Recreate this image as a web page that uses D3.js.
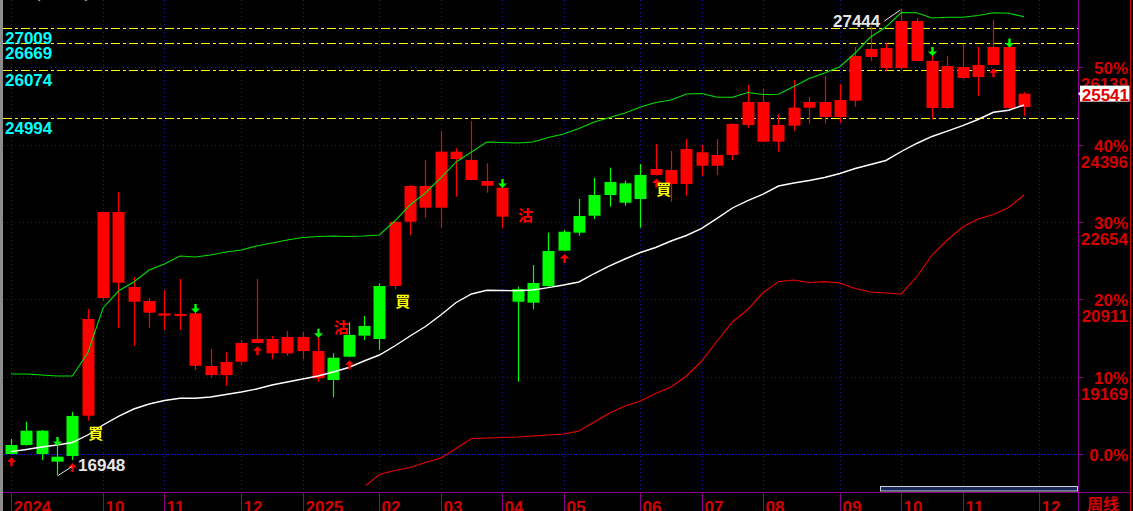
<!DOCTYPE html>
<html><head><meta charset="utf-8">
<script src="https://cdn.jsdelivr.net/npm/d3@7"></script>
<style>
html,body{margin:0;padding:0;background:#000;overflow:hidden;}
svg{display:block;}
</style></head><body>
<svg id="c" width="1133" height="511"></svg>
<script>
// ---------- data (weekly candles) ----------
const opens  = [17635,17957,17957,17372,18288,18294,20943,21287,20859,20612,20544,20544,19419,19210,19210,19509,19930,19698,19698,19750,19136,19599,20110,20313,21213,21213,22659,22975,22975,24070,23598,23469,22772,21145,21280,22000,22434,22788,23260,23553,23523,23710,23710,23508,23508,23919,23919,24160,24835,24460,24460,24820,25225,25015,25015,25382,26365,26118,26118,26275,25218,25218,25893,25915,26185,25218,25240];
const highs  = [17770,18160,17972,17635,18385,20695,22890,23334,21415,20943,21123,21370,20628,19795,19721,19998,21370,20088,20200,20185,20072,19699,20396,20538,21273,22665,23485,24048,24700,24311,24925,23973,23440,21197,21685,22412,22473,23170,23649,23875,23582,23958,24408,24250,24520,24385,24520,24874,25735,25645,25083,25848,25465,25938,25758,26590,27063,26680,27444,27243,26410,26388,26658,26590,27198,26600,25578];
const lows   = [17425,17620,17298,16948,17298,18182,20882,20268,19869,20274,20223,20223,19323,19149,18970,19435,19925,19564,19644,19564,19060,18709,19610,19998,19773,21138,22360,22749,22525,23222,23590,23312,22511,19060,20688,21197,22000,22345,22720,22997,23020,22525,23700,23110,23245,23688,23710,24048,24775,24455,24235,24707,24865,24865,24880,25247,26275,26050,26073,26270,24970,25195,25870,25488,26180,25173,25037];
const closes = [17433,17635,17433,17260,17388,20470,22878,22878,21190,20875,20598,20583,20598,19413,19503,19930,20020,20020,20065,20065,19750,19098,19622,20095,20020,22659,23463,23463,24235,24235,24048,23575,23425,20859,20837,21213,22007,22412,22794,23260,23087,23170,23845,23823,24295,24221,24160,24858,25353,25353,24835,25225,25353,25353,25398,26388,26545,26568,27175,27175,26275,26163,26140,26185,26590,26590,25541];
// Bollinger-style bands (upper / middle / lower)
const upper  = [19233,19233,19210,19188,19188,19705,20718,21100,21303,21573,21708,21888,21865,21910,21978,22023,22113,22180,22248,22304,22327,22338,22327,22338,22360,22675,23035,23305,23643,24003,24228,24453,24442,24430,24453,24554,24633,24757,24903,25004,25105,25240,25342,25398,25533,25544,25458,25458,25567,25522,25526,25702,25882,26005,26147,26455,26815,27040,27366,27362,27243,27258,27258,27299,27362,27348,27272];
const middle = [17485,17534,17590,17635,17692,17860,18085,18277,18445,18558,18637,18686,18686,18715,18772,18828,18895,18985,19053,19120,19188,19278,19379,19525,19660,19863,20088,20302,20560,20842,21033,21118,21111,21107,21123,21176,21235,21303,21494,21663,21820,21966,22079,22225,22349,22511,22736,22968,23136,23282,23462,23530,23587,23654,23744,23857,23947,24037,24239,24419,24577,24696,24822,24959,25121,25168,25285];
const lower  = [null,null,null,null,null,null,null,null,null,null,null,null,null,null,null,null,null,null,null,null,null,null,null,16690,16972,17062,17129,17242,17344,17556,17781,17793,17804,17815,17838,17860,17883,17950,18153,18355,18513,18625,18794,18940,19188,19525,19975,20403,20684,21066,21310,21348,21292,21310,21280,21156,21078,21055,21033,21415,21910,22248,22540,22720,22822,22980,23260];

const monthTicks = [[0,"2024"],[6,"10"],[10,"11"],[15,"12"],[19,"2025"],[24,"02"],[28,"03"],[32,"04"],[36,"05"],[41,"06"],[45,"07"],[49,"08"],[54,"09"],[58,"10"],[62,"11"],[67,"12"]];
const levelLines = [27009, 26669, 26074, 24994];
const basePrice = 17426;
const pctTicks  = [0, 0.1, 0.2, 0.3, 0.4, 0.5];
const pctLabels = ["0.0%","10%","20%","30%","40%","50%"];
const priceLabels = [null,"19169","20911","22654","24396","26139"];
const buyArrows  = [0,4,16,22,36,42,64];
const sellArrows = [3,12,20,32,60,65];
const buyMarks  = [[5,18085],[25,21033],[42,23553]];
const sellMarks = [[21,20448],[33,22968]];
const lastPrice = 25541;
const highMark = [58, 27444];
const lowMark  = [3, 16948];
const slots = 70;

// ---------- scales ----------
const svg = d3.select("#c");
const x = d3.scaleBand().domain(d3.range(slots)).range([3.3, 1077.8]).padding(0);
const cx = i => x(i) + x.bandwidth() / 2;
const y = d3.scaleLinear().domain([basePrice, basePrice * 1.5]).range([454.3, 67.05]);
const R = v => Math.round(v) + 0.5;

const RED = "#ff0000", GREEN = "#00ff00", AXRED = "#d40000", PURPLE = "#8a008a", GRID = "#1414b4";
const numFont = "'Liberation Sans', Arial, sans-serif";

svg.append("rect").attr("width", 1133).attr("height", 511).attr("fill", "#000");

svg.append("defs").append("clipPath").attr("id", "plot")
  .append("rect").attr("x", 3.3).attr("y", 0).attr("width", 1074.5).attr("height", 485.5);

// grid
const grid = svg.append("g").attr("shape-rendering", "crispEdges");
pctTicks.forEach(p => {
  const yy = R(y(basePrice * (1 + p)));
  grid.append("line").attr("x1", 3).attr("x2", 1078).attr("y1", yy).attr("y2", yy)
    .attr("stroke", GRID).attr("stroke-dasharray", p === 0 ? "2,1" : "1,3");
});
monthTicks.forEach(([i]) => {
  const xx = R(cx(i));
  grid.append("line").attr("x1", xx).attr("x2", xx).attr("y1", 0).attr("y2", 492)
    .attr("stroke", GRID).attr("stroke-dasharray", "1,3");
});

// yellow level lines and cyan labels
levelLines.forEach(v => {
  const yy = R(y(v));
  grid.append("line").attr("x1", 3).attr("x2", 1078).attr("y1", yy).attr("y2", yy)
    .attr("stroke", "#ffff00").attr("stroke-dasharray", "9,3,3,3");
  svg.append("text").attr("x", 5).attr("y", y(v) + 16).text(v)
    .attr("fill", "#00ffff").attr("font-family", numFont).attr("font-weight", "bold").attr("font-size", 17);
});

const plot = svg.append("g").attr("clip-path", "url(#plot)");

// candles
const candles = plot.append("g");
opens.forEach((o, i) => {
  const c = closes[i], col = c >= o ? RED : GREEN;
  const xx = cx(i);
  candles.append("line").attr("x1", Math.round(xx) + 0.5).attr("x2", Math.round(xx) + 0.5)
    .attr("y1", y(highs[i])).attr("y2", y(lows[i])).attr("stroke", col).attr("stroke-width", 1.2);
  const top = y(Math.max(o, c)), bot = y(Math.min(o, c));
  candles.append("rect").attr("x", Math.round(xx) - 5.5).attr("width", 12)
    .attr("y", top).attr("height", Math.max(2, bot - top)).attr("fill", col);
});

// band lines
const line = d3.line().defined(d => d != null).x((d, i) => cx(i)).y(d => y(d));
plot.append("path").datum(lower).attr("d", line).attr("fill", "none").attr("stroke", "#ee0000").attr("stroke-width", 1.1);
plot.append("path").datum(upper).attr("d", line).attr("fill", "none").attr("stroke", "#00e000").attr("stroke-width", 1.1);
plot.append("path").datum(middle).attr("d", line).attr("fill", "none").attr("stroke", "#ffffff").attr("stroke-width", 1.4);

// arrows
buyArrows.forEach(i => {
  const xx = Math.round(cx(i)) + 0.5, t = y(lows[i]) + 3;
  plot.append("path").attr("fill", RED)
    .attr("d", `M${xx},${t} L${xx + 4.5},${t + 4.5} L${xx + 1.2},${t + 4.5} L${xx + 1.2},${t + 9} L${xx - 1.2},${t + 9} L${xx - 1.2},${t + 4.5} L${xx - 4.5},${t + 4.5} Z`);
});
sellArrows.forEach(i => {
  const xx = Math.round(cx(i)) + 0.5, t = y(highs[i]) + 1;
  plot.append("path").attr("fill", GREEN)
    .attr("d", `M${xx},${t} L${xx + 4.5},${t - 4.5} L${xx + 1.2},${t - 4.5} L${xx + 1.2},${t - 9} L${xx - 1.2},${t - 9} L${xx - 1.2},${t - 4.5} L${xx - 4.5},${t - 4.5} Z`);
});

// buy / sell glyphs
const cjk = "'Noto Sans CJK TC','Noto Sans CJK SC',sans-serif";
buyMarks.forEach(([i, p]) => {
  svg.append("text").attr("x", cx(i) + 0.5).attr("y", y(p) + 13.5).text("買")
    .attr("fill", "#ffff00").attr("font-family", cjk).attr("font-weight", "bold").attr("font-size", 15);
});
sellMarks.forEach(([i, p]) => {
  svg.append("text").attr("x", cx(i) + 0.5).attr("y", y(p) + 13.5).text("沽")
    .attr("fill", RED).attr("font-family", cjk).attr("font-weight", "bold").attr("font-size", 15);
});

// high / low annotations
{
  const [hi, hv] = highMark, hx = cx(hi) - 1, hy = y(hv) + 1;
  svg.append("line").attr("x1", hx).attr("y1", hy).attr("x2", hx - 16).attr("y2", hy + 11)
    .attr("stroke", "#e6e6e6").attr("stroke-width", 1);
  svg.append("text").attr("x", hx - 20).attr("y", hy + 17).attr("text-anchor", "end").text(hv)
    .attr("fill", "#e6e6e6").attr("font-family", numFont).attr("font-weight", "bold").attr("font-size", 17);
  const [li, lv] = lowMark, lx = cx(li) + 1, ly = y(lv);
  svg.append("line").attr("x1", lx).attr("y1", ly).attr("x2", lx + 14).attr("y2", ly - 9)
    .attr("stroke", "#e6e6e6").attr("stroke-width", 1);
  svg.append("text").attr("x", lx + 20).attr("y", ly - 5).text(lv)
    .attr("fill", "#e6e6e6").attr("font-family", numFont).attr("font-weight", "bold").attr("font-size", 17);
}

// top-left indicator title (mostly cut off)
svg.append("text").attr("x", 35).attr("y", -2).text("(20,2,2)")
  .attr("fill", "#c8c8c8").attr("font-family", numFont).attr("font-size", 16);

// scroll bar
svg.append("rect").attr("x", 880.5).attr("y", 486.5).attr("width", 197).attr("height", 4.5)
  .attr("fill", "#16295e").attr("stroke", "#d0d0d0").attr("stroke-width", 1);

// frame / axes
const ax = svg.append("g").attr("shape-rendering", "crispEdges");
ax.append("rect").attr("x", 0).attr("y", 0).attr("width", 3).attr("height", 511).attr("fill", "#8c8c8c");
ax.append("line").attr("x1", 3).attr("x2", 1131).attr("y1", 492.5).attr("y2", 492.5).attr("stroke", PURPLE);
ax.append("line").attr("x1", 1078.5).attr("x2", 1078.5).attr("y1", 0).attr("y2", 511).attr("stroke", PURPLE);
ax.append("line").attr("x1", 1130.5).attr("x2", 1130.5).attr("y1", 0).attr("y2", 511).attr("stroke", "#cc0000");
monthTicks.forEach(([i, lab]) => {
  const xx = R(cx(i));
  ax.append("line").attr("x1", xx).attr("x2", xx).attr("y1", 492).attr("y2", 511).attr("stroke", PURPLE);
  svg.append("text").attr("x", xx + 2).attr("y", 512.5).text(lab)
    .attr("fill", AXRED).attr("font-family", numFont).attr("font-weight", "bold").attr("font-size", 17);
});
svg.append("text").attr("x", 1087).attr("y", 509.5).text("周线")
  .attr("fill", AXRED).attr("font-family", "'Noto Sans CJK SC',sans-serif").attr("font-weight", "bold").attr("font-size", 16);

// right axis labels
pctTicks.forEach((p, k) => {
  const yy = y(basePrice * (1 + p));
  ax.append("line").attr("x1", 1078).attr("x2", 1083).attr("y1", R(yy)).attr("y2", R(yy)).attr("stroke", PURPLE);
  svg.append("text").attr("x", 1128).attr("y", yy + 7).attr("text-anchor", "end").text(pctLabels[k])
    .attr("fill", AXRED).attr("font-family", numFont).attr("font-weight", "bold").attr("font-size", 17);
  if (priceLabels[k]) {
    svg.append("text").attr("x", 1128).attr("y", yy + 23).attr("text-anchor", "end").text(priceLabels[k])
      .attr("fill", AXRED).attr("font-family", numFont).attr("font-weight", "bold").attr("font-size", 17);
  }
});

// current price tag
{
  const yy = y(lastPrice);
  svg.append("path").attr("fill", "#ffffff")
    .attr("d", `M1078,${yy} L1081,${yy - 3} L1081,${yy + 3} Z`);
  svg.append("rect").attr("x", 1080).attr("y", yy - 8).attr("width", 49.5).attr("height", 16).attr("fill", "#ffffff");
  svg.append("text").attr("x", 1129).attr("y", yy + 7).attr("text-anchor", "end").text(lastPrice)
    .attr("fill", "#e00000").attr("font-family", numFont).attr("font-weight", "bold").attr("font-size", 17);
}
</script>
</body></html>
